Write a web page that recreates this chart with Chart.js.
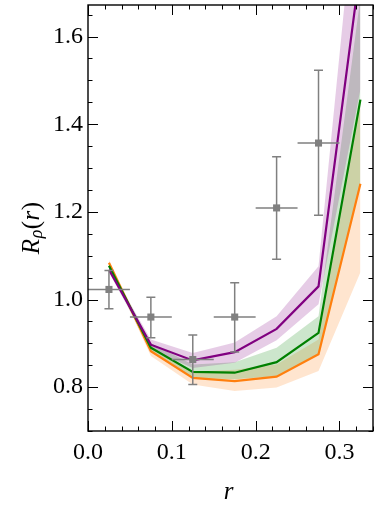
<!DOCTYPE html>
<html>
<head>
<meta charset="utf-8">
<script src="https://cdn.jsdelivr.net/npm/chart.js@4.4.0/dist/chart.umd.min.js"></script>
<style>
  html, body { margin: 0; padding: 0; background: #fff; }
</style>
</head>
<body>
<canvas id="chart" width="379" height="521"></canvas>
<script>
// bin centres in r
const rBins = [0.025, 0.075, 0.125, 0.175, 0.225, 0.275, 0.325];

// model curves + their bands
const purpleMid = [1.068, 0.897, 0.861, 0.880, 0.933, 1.030, 1.760];
const purpleLo  = [1.062, 0.886, 0.844, 0.856, 0.907, 0.989, 1.480];
const purpleHi  = [1.074, 0.909, 0.878, 0.902, 0.962, 1.076, 2.040];

const greenMid = [1.077, 0.890, 0.835, 0.833, 0.857, 0.924, 1.456];
const greenLo  = [1.071, 0.880, 0.821, 0.818, 0.825, 0.875, 1.260];
const greenHi  = [1.083, 0.900, 0.852, 0.857, 0.890, 0.962, 1.690];

const orangeMid = [1.084, 0.882, 0.821, 0.814, 0.824, 0.875, 1.264];
const orangeLo  = [1.078, 0.871, 0.806, 0.791, 0.799, 0.837, 1.062];
const orangeHi  = [1.090, 0.893, 0.835, 0.840, 0.852, 0.909, 1.456];

// measured points with error bars
const obsR     = [0.025, 0.075, 0.125, 0.175, 0.225, 0.275];
const obsVal   = [1.023, 0.960, 0.863, 0.960, 1.209, 1.357];
const obsLow   = [0.979, 0.913, 0.806, 0.880, 1.092, 1.192];
const obsHigh  = [1.066, 1.005, 0.919, 1.038, 1.326, 1.523];
const obsRHalf = [0.025, 0.025, 0.025, 0.025, 0.025, 0.025];

// ticks
const xTicks = [0.0, 0.1, 0.2, 0.3];
const yTicks = [0.8, 1.0, 1.2, 1.4, 1.6];

const FONT = '"Liberation Serif", "Times New Roman", serif';
const GRAY = '#808080';

const pts = (xs, ys) => xs.map((x, i) => ({ x: x, y: ys[i] }));

function bandPair(lo, hi, fillColor) {
	return [
		{ data: pts(rBins, lo), borderWidth: 0, pointRadius: 0, fill: false, order: 5 },
		{ data: pts(rBins, hi), borderWidth: 0, pointRadius: 0, fill: '-1', backgroundColor: fillColor, order: 5 }
	];
}

function midLine(vals, color) {
	return { data: pts(rBins, vals), borderColor: color, borderWidth: 2.2, pointRadius: 0, fill: false, tension: 0, order: 2 };
}

// error bars for the gray points, drawn over everything
const errorBars = {
	id: 'errorBars',
	afterDatasetsDraw(chart) {
		const { ctx, chartArea: a, scales: { x, y } } = chart;
		ctx.save();
		ctx.beginPath();
		ctx.rect(a.left, a.top, a.right - a.left, a.bottom - a.top);
		ctx.clip();
		ctx.strokeStyle = GRAY;
		ctx.lineWidth = 1.5;
		const cap = 4.5;
		obsR.forEach((r, i) => {
			const px = x.getPixelForValue(r);
			const py = y.getPixelForValue(obsVal[i]);
			const yT = y.getPixelForValue(obsHigh[i]);
			const yB = y.getPixelForValue(obsLow[i]);
			const xL = x.getPixelForValue(r - obsRHalf[i]);
			const xR = x.getPixelForValue(r + obsRHalf[i]);
			ctx.beginPath();
			ctx.moveTo(px, yT); ctx.lineTo(px, yB);
			ctx.moveTo(px - cap, yT); ctx.lineTo(px + cap, yT);
			ctx.moveTo(px - cap, yB); ctx.lineTo(px + cap, yB);
			ctx.moveTo(xL, py); ctx.lineTo(xR, py);
			ctx.stroke();
		});
		ctx.restore();
	}
};

// frame + inward ticks on all sides, and the axis titles
const frameAndTitles = {
	id: 'frameAndTitles',
	afterDraw(chart) {
		const { ctx, chartArea: a, scales: { x, y } } = chart;
		ctx.save();
		ctx.strokeStyle = '#000';
		ctx.lineWidth = 1;
		const major = 10, minor = 4.5;
		ctx.beginPath();
		for (let k = 0; k <= 17; k++) {
			const v = k * 0.02;
			const len = (k % 5 === 0) ? major : minor;
			const px = Math.round(x.getPixelForValue(v)) + 0.5;
			ctx.moveTo(px, a.bottom); ctx.lineTo(px, a.bottom - len);
			ctx.moveTo(px, a.top); ctx.lineTo(px, a.top + len);
		}
		for (let k = 14; k <= 33; k++) {
			const v = k * 0.05;
			const len = (k % 4 === 0) ? major : minor;
			const py = Math.round(y.getPixelForValue(v)) + 0.5;
			ctx.moveTo(a.left, py); ctx.lineTo(a.left + len, py);
			ctx.moveTo(a.right, py); ctx.lineTo(a.right - len, py);
		}
		ctx.stroke();
		ctx.lineWidth = 1.4;
		ctx.strokeRect(a.left, a.top, a.right - a.left, a.bottom - a.top);

		ctx.fillStyle = '#000';
		// x title
		ctx.font = 'italic 25px ' + FONT;
		ctx.textAlign = 'center';
		ctx.textBaseline = 'alphabetic';
		ctx.fillText('r', (a.left + a.right) / 2 - 2, 499);

		// y title: R_rho(r)
		ctx.translate(31, 229);
		ctx.rotate(-Math.PI / 2);
		const parts = [
			{ t: 'R', f: 'italic 25px ' + FONT, dy: 0 },
			{ t: 'ρ', f: 'italic 18px ' + FONT, dy: 5 },
			{ t: '(', f: '25px ' + FONT, dy: 0 },
			{ t: 'r', f: 'italic 25px ' + FONT, dy: 0 },
			{ t: ')', f: '25px ' + FONT, dy: 0 }
		];
		let total = 0;
		parts.forEach(p => { ctx.font = p.f; p.w = ctx.measureText(p.t).width; total += p.w; });
		let cx = -total / 2;
		ctx.textAlign = 'left';
		ctx.textBaseline = 'middle';
		parts.forEach(p => {
			ctx.font = p.f;
			ctx.fillText(p.t, cx, p.dy + 1);
			cx += p.w + 0.5;
		});
		ctx.restore();
	}
};

const datasets = [
	midLine(purpleMid, '#800080'),
	midLine(greenMid, '#008000'),
	midLine(orangeMid, '#ff7f0e'),
	{
		data: pts(obsR, obsVal), showLine: false, pointStyle: 'rect', pointRadius: 5,
		pointBackgroundColor: GRAY, pointBorderWidth: 0, order: 1
	},
	...bandPair(purpleLo, purpleHi, 'rgba(128,0,128,0.2)'),
	...bandPair(greenLo, greenHi, 'rgba(0,128,0,0.2)'),
	...bandPair(orangeLo, orangeHi, 'rgba(255,127,14,0.2)')
];

const noPad = s => { s.paddingTop = 0; s.paddingBottom = 0; s.paddingLeft = 0; s.paddingRight = 0; };

new Chart(document.getElementById('chart').getContext('2d'), {
	type: 'line',
	data: { datasets: datasets },
	plugins: [errorBars, frameAndTitles],
	options: {
		responsive: false,
		animation: false,
		devicePixelRatio: 1,
		layout: { padding: { top: 5, right: 6, left: 0, bottom: 0 } },
		plugins: { legend: { display: false }, tooltip: { enabled: false } },
		scales: {
			x: {
				type: 'linear',
				min: 0,
				max: 0.34,
				afterBuildTicks: s => { s.ticks = xTicks.map(v => ({ value: v })); },
				afterFit: s => { s.height = 90; noPad(s); },
				grid: { display: false, drawTicks: false },
				border: { display: false },
				ticks: {
					callback: v => v.toFixed(1),
					font: { family: FONT, size: 24 },
					color: '#000',
					padding: 7,
					maxRotation: 0,
					autoSkip: false
				}
			},
			y: {
				type: 'linear',
				min: 0.7,
				max: 1.672,
				afterBuildTicks: s => { s.ticks = yTicks.map(v => ({ value: v })); },
				afterFit: s => { s.width = 88; noPad(s); },
				grid: { display: false, drawTicks: false },
				border: { display: false },
				ticks: {
					callback: v => v.toFixed(1),
					font: { family: FONT, size: 24 },
					color: '#000',
					padding: 5,
					autoSkip: false
				}
			}
		}
	}
});
</script>
</body>
</html>
